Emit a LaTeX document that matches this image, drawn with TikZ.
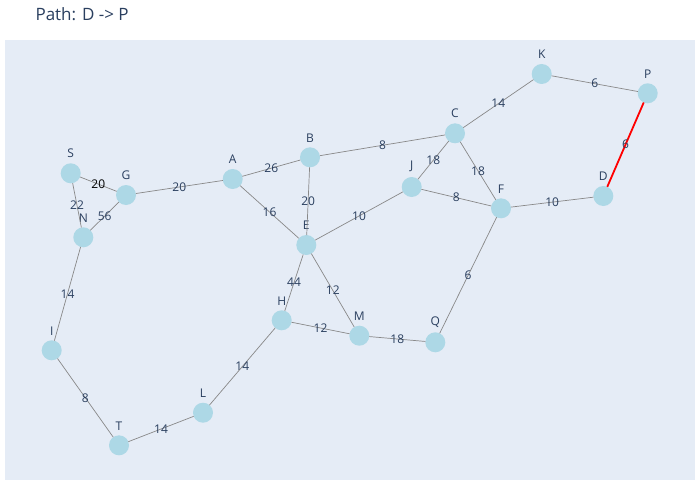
\documentclass[tikz,border=0pt]{standalone}
\usepackage{fontspec}
\setmainfont{Open Sans}

\definecolor{plotbg}{HTML}{E5ECF6}
\definecolor{nodeblue}{HTML}{ADD8E6}
\definecolor{inktext}{HTML}{2A3F5F}
\definecolor{linkgray}{HTML}{888888}

\begin{document}
\begin{tikzpicture}[
    x=1pt,
    y=-1pt,
    font=\fontsize{12}{14}\selectfont,
    text=inktext,
    every label/.style={text=inktext, inner sep=2pt},
    label distance=3pt
  ]

  \tikzstyle{vertex} = [circle, fill=nodeblue, minimum size=20pt, inner sep=0, outer sep=0]
  \tikzstyle{link} = [draw=linkgray, line width=0.7pt]
  \tikzstyle{route} = [draw=red, line width=1.8pt]
  \tikzstyle{weight} = [midway, inner sep=0, text=inktext]

  \useasboundingbox (0,0) rectangle (700,500);
  \fill[white] (0,0) rectangle (700,500);
  \fill[plotbg] (5,40) rectangle (695,480);

  \node[anchor=west, font=\fontsize{17}{20}\selectfont] (title) at (32,14) {Path: D -> P};

  % vertices
  \node [vertex, label=above:K] (K) at (541.7,74) {};
  \node [vertex, label=above:P] (P) at (647.7,93.3) {};
  \node [vertex, label=above:C] (C) at (455,133.3) {};
  \node [vertex, label=above:B] (B) at (310,157.3) {};
  \node [vertex, label=above:S] (S) at (70.7,173.3) {};
  \node [vertex, label=above:G] (G) at (126,195) {};
  \node [vertex, label=above:A] (A) at (232.7,179) {};
  \node [vertex, label=above:J] (J) at (411.7,187) {};
  \node [vertex, label=above:F] (F) at (501,208.3) {};
  \node [vertex, label=above:D] (D) at (603.3,196) {};
  \node [vertex, label=above:E] (E) at (306.3,245) {};
  \node [vertex, label=above:N] (N) at (83.3,237.3) {};
  \node [vertex, label=above:H] (H) at (281.7,320.3) {};
  \node [vertex, label=above:M] (M) at (359.3,335.7) {};
  \node [vertex, label=above:Q] (Q) at (435.3,342.3) {};
  \node [vertex, label=above:I] (I) at (51.7,350.3) {};
  \node [vertex, label=above:L] (L) at (203,412.7) {};
  \node [vertex, label=above:T] (T) at (119,445.3) {};

  % links
  \path[link] (K) edge node[weight] {6} (P);
  \path[link] (C) edge node[weight] {14} (K);
  \path[link] (B) edge node[weight] {8} (C);
  \path[link] (C) edge node[weight] {18} (J);
  \path[link] (C) edge node[weight] {18} (F);
  \path[link] (J) edge node[weight] {8} (F);
  \path[link] (F) edge node[weight] {10} (D);
  \path[link] (A) edge node[weight] {26} (B);
  \path[link] (B) edge node[weight] {20} (E);
  \path[link] (G) edge node[weight] {20} (A);
  \path[link] (S) edge node[weight, text=black] {20} (G);
  \path[link] (S) edge node[weight] {22} (N);
  \path[link] (G) edge node[weight] {56} (N);
  \path[link] (A) edge node[weight] {16} (E);
  \path[link] (E) edge node[weight] {10} (J);
  \path[link] (E) edge node[weight] {44} (H);
  \path[link] (E) edge node[weight] {12} (M);
  \path[link] (H) edge node[weight] {12} (M);
  \path[link] (M) edge node[weight] {18} (Q);
  \path[link] (Q) edge node[weight] {6} (F);
  \path[link] (N) edge node[weight] {14} (I);
  \path[link] (I) edge node[weight] {8} (T);
  \path[link] (T) edge node[weight] {14} (L);
  \path[link] (L) edge node[weight] {14} (H);

  % shortest route
  \path[route] (P) edge node[weight] {6} (D);

\end{tikzpicture}
\end{document}
